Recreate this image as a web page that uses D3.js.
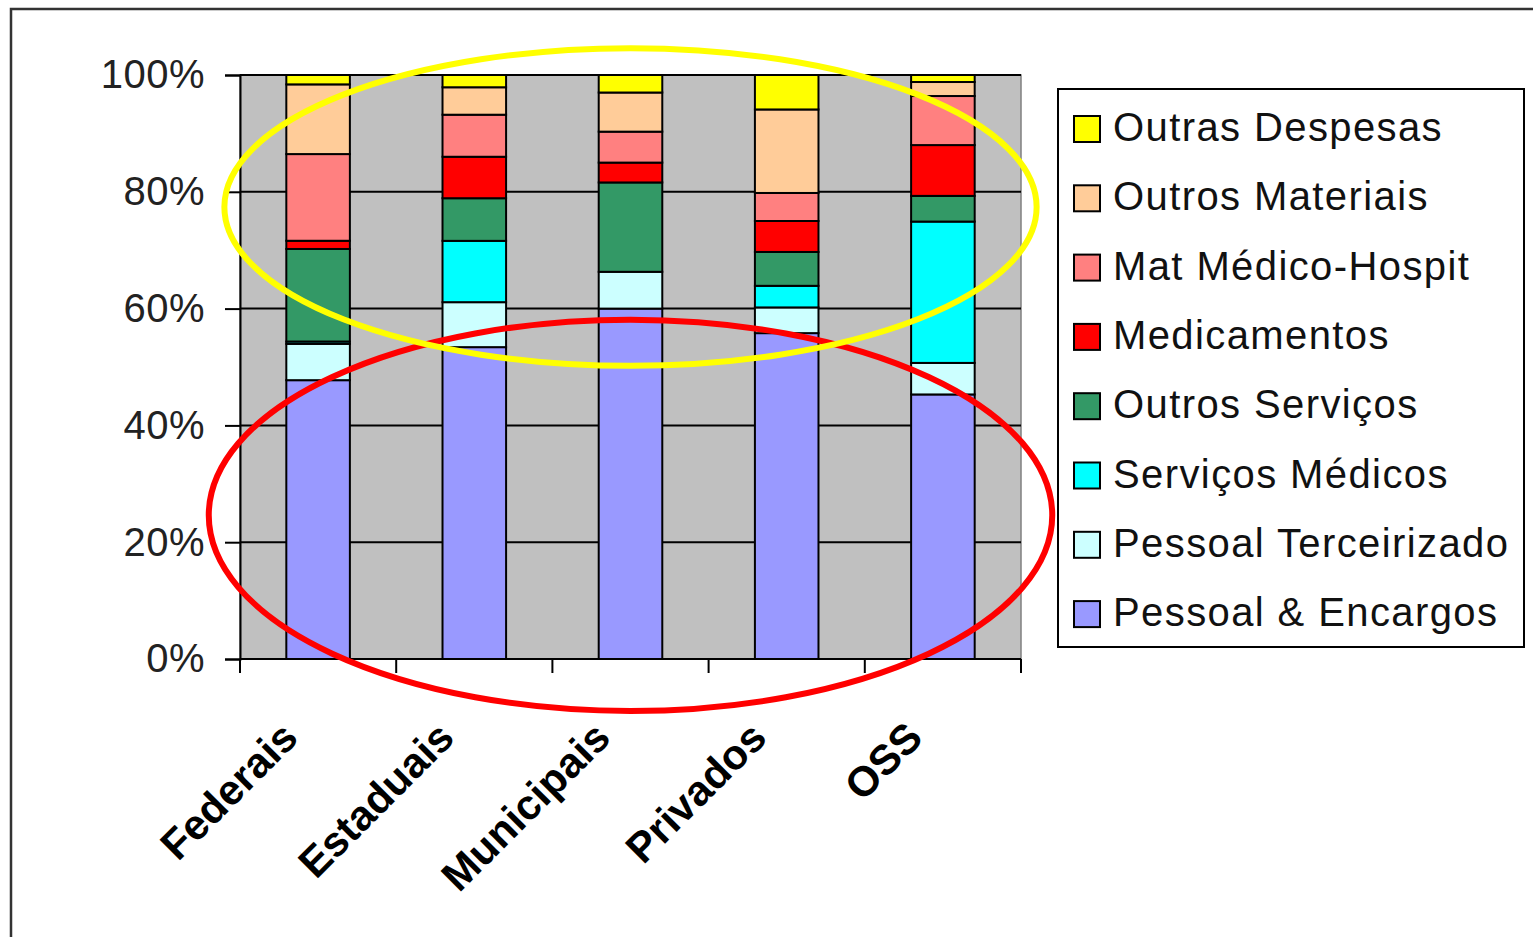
<!DOCTYPE html>
<html>
<head>
<meta charset="utf-8">
<script src="https://cdn.jsdelivr.net/npm/d3@7"></script>
<style>
  html, body { margin: 0; padding: 0; background: #fff; overflow: hidden; }
  svg { display: block; font-family: "Liberation Sans", Arial, sans-serif; }
</style>
</head>
<body>
<svg id="chart" width="1533" height="937"></svg>
<script>
// Categories (hospital management types)
const categories = ["Federais", "Estaduais", "Municipais", "Privados", "OSS"];

// Expense shares (%) per category, stacked bottom to top
const pessoalEncargos     = [47.6, 53.4, 60.0, 55.8, 45.3];
const pessoalTerceirizado = [6.2, 7.7, 6.3, 4.4, 5.4];
const servicosMedicos     = [0.4, 10.5, 0.0, 3.7, 24.2];
const outrosServicos      = [15.8, 7.3, 15.3, 5.8, 4.4];
const medicamentos        = [1.4, 7.1, 3.4, 5.3, 8.7];
const matMedicoHospit     = [14.8, 7.2, 5.3, 4.8, 8.4];
const outrosMateriais     = [11.9, 4.7, 6.7, 14.3, 2.4];
const outrasDespesas      = [1.6, 2.1, 3.0, 5.9, 1.2];

const seriesNames = ["Pessoal & Encargos", "Pessoal Terceirizado", "Serviços Médicos",
  "Outros Serviços", "Medicamentos", "Mat Médico-Hospit", "Outros Materiais", "Outras Despesas"];
const seriesValues = [pessoalEncargos, pessoalTerceirizado, servicosMedicos, outrosServicos,
  medicamentos, matMedicoHospit, outrosMateriais, outrasDespesas];
const seriesColors = ["#9999FF", "#CCFFFF", "#00FFFF", "#339966",
  "#FF0000", "#FF8080", "#FFCC99", "#FFFF00"];

const yTicks = [0, 0.2, 0.4, 0.6, 0.8, 1.0];

// Highlight ellipses: centre on a category, vertical centre/radius in share units,
// horizontal radius in category steps
const highlightCenters = ["Municipais", "Municipais"];
const highlightCy      = [0.774, 0.246];
const highlightRy      = [0.272, 0.335];
const highlightRxSteps = [2.6, 2.7];
const highlightColors  = ["#FFFF00", "#FF0000"];

const rows = categories.map((c, i) => {
  const r = { category: c };
  seriesNames.forEach((s, j) => { r[s] = seriesValues[j][i]; });
  return r;
});

const svg = d3.select("#chart");
const plot = { left: 240, right: 1021, top: 75, bottom: 659 };

const x = d3.scaleBand()
  .domain(categories)
  .range([plot.left, plot.right])
  .paddingInner(0.593)
  .paddingOuter(0.2965);

const y = d3.scaleLinear().domain([0, 1]).range([plot.bottom, plot.top]);

const stack = d3.stack().keys(seriesNames).offset(d3.stackOffsetExpand);
const stacked = stack(rows);

// Outer frame
svg.append("rect")
  .attr("x", 11).attr("y", 9).attr("width", 1600).attr("height", 1000)
  .attr("fill", "none").attr("stroke", "#333").attr("stroke-width", 2.5);

// Plot area background
svg.append("rect")
  .attr("x", plot.left).attr("y", plot.top)
  .attr("width", plot.right - plot.left).attr("height", plot.bottom - plot.top)
  .attr("fill", "#C0C0C0").attr("stroke", "#808080").attr("stroke-width", 1.5);

// Horizontal gridlines
svg.append("g")
  .selectAll("line")
  .data(yTicks.filter(t => t > 0))
  .join("line")
  .attr("x1", plot.left).attr("x2", plot.right)
  .attr("y1", d => y(d)).attr("y2", d => y(d))
  .attr("stroke", "#000").attr("stroke-width", 2);

// Stacked bars
svg.append("g")
  .selectAll("g")
  .data(stacked)
  .join("g")
  .attr("fill", (d, i) => seriesColors[i])
  .selectAll("rect")
  .data(d => d.map(v => ({ v, cat: v.data.category })))
  .join("rect")
  .attr("x", d => x(d.cat))
  .attr("width", x.bandwidth())
  .attr("y", d => y(d.v[1]))
  .attr("height", d => Math.max(0, y(d.v[0]) - y(d.v[1])))
  .attr("stroke", "#000")
  .attr("stroke-width", 2);

// Y axis
const yAxis = d3.axisLeft(y)
  .tickValues(yTicks)
  .tickFormat(d3.format(".0%"))
  .tickSize(15)
  .tickPadding(20);
const yg = svg.append("g").attr("transform", `translate(${plot.left},0)`).call(yAxis);
yg.select(".domain").attr("stroke", "#000").attr("stroke-width", 2);
yg.selectAll(".tick line").attr("stroke", "#000").attr("stroke-width", 2);
yg.selectAll(".tick text")
  .attr("font-size", 40)
  .attr("letter-spacing", 0.5)
  .attr("fill", "#222")
  .attr("font-family", "'Liberation Sans', Arial, sans-serif");

// X axis with ticks on category boundaries
const boundaries = d3.range(categories.length + 1).map(i => plot.left + i * x.step());
const xg = svg.append("g");
xg.append("line")
  .attr("x1", plot.left).attr("x2", plot.right)
  .attr("y1", plot.bottom).attr("y2", plot.bottom)
  .attr("stroke", "#000").attr("stroke-width", 2);
xg.selectAll("line.tick")
  .data(boundaries)
  .join("line")
  .attr("class", "tick")
  .attr("x1", d => d).attr("x2", d => d)
  .attr("y1", plot.bottom).attr("y2", plot.bottom + 14)
  .attr("stroke", "#000").attr("stroke-width", 2);

// Category labels rotated 45°
xg.selectAll("text")
  .data(categories)
  .join("text")
  .attr("transform", d => `translate(${x(d) + x.bandwidth() / 2 - 18},${plot.bottom + 81}) rotate(-45)`)
  .attr("text-anchor", "end")
  .attr("font-size", 42)
  .attr("font-weight", "bold")
  .attr("fill", "#000")
  .text(d => d);

// Legend (top entry is the top of the stack)
const legend = svg.append("g");
legend.append("rect")
  .attr("x", 1058).attr("y", 89).attr("width", 466).attr("height", 558)
  .attr("fill", "#fff").attr("stroke", "#000").attr("stroke-width", 2);
const legendOrder = d3.range(seriesNames.length).reverse();
const li = legend.selectAll("g.item")
  .data(legendOrder)
  .join("g")
  .attr("class", "item")
  .attr("transform", (d, i) => `translate(1074,${129 + i * 69.3})`);
li.append("rect")
  .attr("x", 0).attr("y", -13).attr("width", 26).attr("height", 26)
  .attr("fill", d => seriesColors[d]).attr("stroke", "#000").attr("stroke-width", 2);
li.append("text")
  .attr("x", 39).attr("y", 12)
  .attr("font-size", 40)
  .attr("letter-spacing", 1.4)
  .attr("fill", "#111")
  .text(d => seriesNames[d]);

// Highlight ellipses
const ellipses = svg.append("g");
[1, 0].forEach(k => {
  const cx = x(highlightCenters[k]) + x.bandwidth() / 2;
  ellipses.append("ellipse")
    .attr("cx", cx)
    .attr("cy", y(highlightCy[k]))
    .attr("rx", highlightRxSteps[k] * x.step())
    .attr("ry", y(0) - y(highlightRy[k]))
    .attr("fill", "none")
    .attr("stroke", highlightColors[k])
    .attr("stroke-width", 6);
});
</script>
</body>
</html>
